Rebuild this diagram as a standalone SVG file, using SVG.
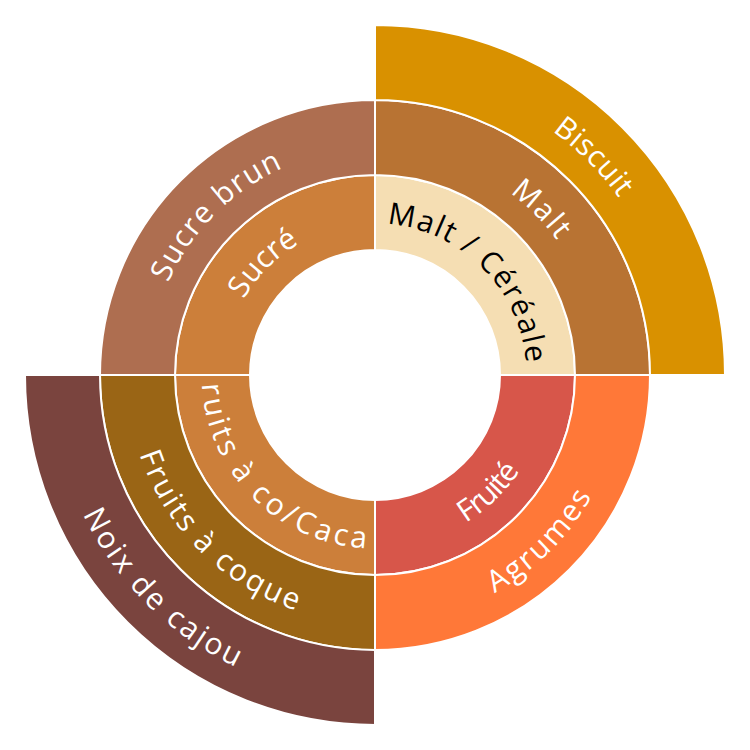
<svg xmlns="http://www.w3.org/2000/svg" xmlns:xlink="http://www.w3.org/1999/xlink" width="750" height="750" viewBox="0 0 750 750">
<style>
.seg{stroke:#FFFFFF;stroke-width:2;stroke-linejoin:round}
.lbl{font-family:"Open Sans",Lato,"Liberation Sans",sans-serif;font-size:30px;fill:#FFFFFF}
.dark{fill:#000000}
</style>
<defs>
<path id="p-malt-cereale" d="M386.89,223.97 A151.5,151.5 0 0 1 526.03,363.11"/>
<path id="p-malt" d="M509.73,192.93 A226.5,226.5 0 0 1 557.07,240.27"/>
<path id="p-biscuit" d="M552.22,131.08 A301.5,301.5 0 0 1 618.92,197.78"/>
<path id="p-sucre" d="M243.80,299.25 A151.5,151.5 0 0 1 299.25,243.80"/>
<path id="p-sucre-brun" d="M168.08,282.87 A226.5,226.5 0 0 1 282.87,168.08"/>
<path id="p-fruite" d="M465.65,522.93 A173.5,173.5 0 0 0 519.68,470.76"/>
<path id="p-agrumes" d="M494.33,592.97 A248.5,248.5 0 0 0 591.71,496.61"/>
<path id="p-fcc" d="M201.74,384.08 A173.5,173.5 0 0 0 365.92,548.26"/>
<path id="p-fruits-coque" d="M139.48,454.26 A248.5,248.5 0 0 0 295.74,610.52"/>
<path id="p-noix" d="M83.01,514.27 A323.5,323.5 0 0 0 235.73,666.99"/>
</defs>
<rect width="750" height="750" fill="#FFFFFF"/>
<g id="node-malt-cereale">
<path class="seg" fill="#F5DEB3" d="M375,175 A200,200 0 0 1 575,375 L500,375 A125,125 0 0 0 375,250 Z"/>
<text class="lbl dark"><textPath xlink:href="#p-malt-cereale" href="#p-malt-cereale" textLength="214" lengthAdjust="spacing">Malt / Céréale</textPath></text>
</g>
<g id="node-fruite">
<path class="seg" fill="#D7564A" d="M575,375 A200,200 0 0 1 375,575 L375,500 A125,125 0 0 0 500,375 Z"/>
<text class="lbl"><textPath xlink:href="#p-fruite" href="#p-fruite" textLength="75.7" lengthAdjust="spacing">Fruité</textPath></text>
</g>
<g id="node-fruits-coque-cacao">
<path class="seg" fill="#CC7F3A" d="M375,575 A200,200 0 0 1 175,375 L250,375 A125,125 0 0 0 375,500 Z"/>
<text class="lbl"><textPath xlink:href="#p-fcc" href="#p-fcc" textLength="254.4" lengthAdjust="spacing">ruits à co/Caca</textPath></text>
</g>
<g id="node-sucre">
<path class="seg" fill="#CC7F3A" d="M175,375 A200,200 0 0 1 375,175 L375,250 A125,125 0 0 0 250,375 Z"/>
<text class="lbl"><textPath xlink:href="#p-sucre" href="#p-sucre" textLength="79.3" lengthAdjust="spacing">Sucré</textPath></text>
</g>
<g id="node-malt">
<path class="seg" fill="#B87333" d="M375,100 A275,275 0 0 1 650,375 L575,375 A200,200 0 0 0 375,175 Z"/>
<text class="lbl"><textPath xlink:href="#p-malt" href="#p-malt" textLength="67.2" lengthAdjust="spacing">Malt</textPath></text>
</g>
<g id="node-agrumes">
<path class="seg" fill="#FF7838" d="M650,375 A275,275 0 0 1 375,650 L375,575 A200,200 0 0 0 575,375 Z"/>
<text class="lbl"><textPath xlink:href="#p-agrumes" href="#p-agrumes" textLength="138.8" lengthAdjust="spacing">Agrumes</textPath></text>
</g>
<g id="node-fruits-coque">
<path class="seg" fill="#9A6515" d="M375,650 A275,275 0 0 1 100,375 L175,375 A200,200 0 0 0 375,575 Z"/>
<text class="lbl"><textPath xlink:href="#p-fruits-coque" href="#p-fruits-coque" textLength="229" lengthAdjust="spacing">Fruits à coque</textPath></text>
</g>
<g id="node-sucre-brun">
<path class="seg" fill="#AE6E50" d="M100,375 A275,275 0 0 1 375,100 L375,175 A200,200 0 0 0 175,375 Z"/>
<text class="lbl"><textPath xlink:href="#p-sucre-brun" href="#p-sucre-brun" textLength="166" lengthAdjust="spacing">Sucre brun</textPath></text>
</g>
<g id="node-biscuit">
<path class="seg" fill="#D99100" d="M375,25 A350,350 0 0 1 725,375 L650,375 A275,275 0 0 0 375,100 Z"/>
<text class="lbl"><textPath xlink:href="#p-biscuit" href="#p-biscuit" textLength="94.7" lengthAdjust="spacing">Biscuit</textPath></text>
</g>
<g id="node-noix-de-cajou">
<path class="seg" fill="#7A443E" d="M375,725 A350,350 0 0 1 25,375 L100,375 A275,275 0 0 0 375,650 Z"/>
<text class="lbl"><textPath xlink:href="#p-noix" href="#p-noix" textLength="220.2" lengthAdjust="spacing">Noix de cajou</textPath></text>
</g>
<g id="connectors"/>
</svg>
